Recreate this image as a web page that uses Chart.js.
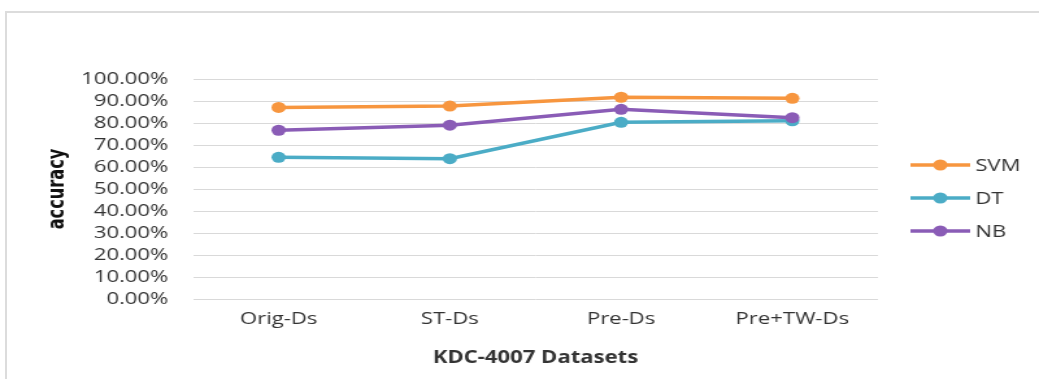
<!DOCTYPE html>
<html>
<head>
<title>KDC-4007 accuracy</title>
<style>
  body { margin: 0; background: #fff; overflow: hidden; }
  #frame { position: absolute; left: 5px; top: 11px; width: 1100px; height: 400px; border: 2px solid #dcdcdc; }
  #wrap { position: absolute; left: 0; top: 0; width: 800px; height: 379px; transform: scaleX(1.29875); transform-origin: 0 0; }
</style>
</head>
<body>
<div id="frame"></div>
<div id="wrap"><canvas id="accChart" width="800" height="379"></canvas></div>
<script src="https://cdn.jsdelivr.net/npm/chart.js"></script>
<script>
// categories + values (fractions, shown as %)
var datasetNames = ["Orig-Ds", "ST-Ds", "Pre-Ds", "Pre+TW-Ds"];
var svm_acc = [0.871, 0.877, 0.917, 0.912];
var dt_acc  = [0.644, 0.638, 0.803, 0.810];
var nb_acc  = [0.767, 0.790, 0.862, 0.824];
var yTicks  = [0, 0.1, 0.2, 0.3, 0.4, 0.5, 0.6, 0.7, 0.8, 0.9, 1.0];

var txtFont = "'Open Sans', 'Liberation Sans', sans-serif";

// legend on the right: line with dot, like excel
var sideLegend = {
  id: 'sideLegend',
  afterDraw: function(chart){
    var ctx = chart.ctx;
    ctx.save();
    chart.data.datasets.forEach(function(ds, i){
      var y = 165 + 33*i;
      ctx.strokeStyle = ds.borderColor;
      ctx.lineWidth = 3.5;
      ctx.beginPath();
      ctx.moveTo(701, y);
      ctx.lineTo(747, y);
      ctx.stroke();
      ctx.fillStyle = ds.borderColor;
      ctx.beginPath();
      ctx.arc(724, y, 5.5, 0, Math.PI*2);
      ctx.fill();
      ctx.fillStyle = '#333';
      ctx.font = "17px " + txtFont;
      ctx.textBaseline = 'middle';
      ctx.fillText(ds.label, 751, y + 1);
    });
    ctx.restore();
  }
};

function mkSet(name, vals, col, ord){
  return {
    label: name,
    data: vals,
    borderColor: col,
    backgroundColor: col,
    borderWidth: 3.5,
    pointRadius: 5.5,
    pointHoverRadius: 5.5,
    pointBorderWidth: 0,
    tension: 0,
    order: ord
  };
}

new Chart(document.getElementById('accChart'), {
  type: 'line',
  data: {
    labels: datasetNames,
    datasets: [
      mkSet('SVM', svm_acc, '#F7963F', 0),
      mkSet('DT', dt_acc, '#4BACC6', 2),
      mkSet('NB', nb_acc, '#8A5CB6', 1)
    ]
  },
  options: {
    responsive: false,
    animation: false,
    devicePixelRatio: 1,
    layout: { padding: { left: 34, right: 124, top: 79, bottom: 0 } },
    plugins: { legend: { display: false }, tooltip: { enabled: false } },
    scales: {
      x: {
        offset: true,
        grid: { display: false, drawTicks: false },
        border: { display: false },
        ticks: { color: '#333', padding: 10, font: { family: txtFont, size: 17 } },
        title: { display: true, text: 'KDC-4007 Datasets', color: '#333',
                 padding: { top: 0, bottom: 10.8 },
                 font: { family: txtFont, size: 17, weight: 'bold' } },
        afterFit: function(s){ s.height = 80; }
      },
      y: {
        min: 0, max: 1,
        grid: { color: '#d9d9d9', lineWidth: 1, drawTicks: false },
        border: { display: false },
        afterBuildTicks: function(s){ s.ticks = yTicks.map(function(v){ return { value: v }; }); },
        ticks: {
          color: '#333', padding: 19, autoSkip: false,
          font: { family: txtFont, size: 17 },
          callback: function(v){ return (v*100).toFixed(2) + '%'; }
        },
        title: { display: true, text: 'accuracy', color: '#111',
                 padding: { top: 0, bottom: 0 },
                 font: { family: "'Liberation Sans Narrow', 'DejaVu Sans Condensed', sans-serif", size: 18, weight: 'bold' } },
        afterFit: function(s){ s.width = 114.6; }
      }
    }
  },
  plugins: [sideLegend]
});
</script>
</body>
</html>
